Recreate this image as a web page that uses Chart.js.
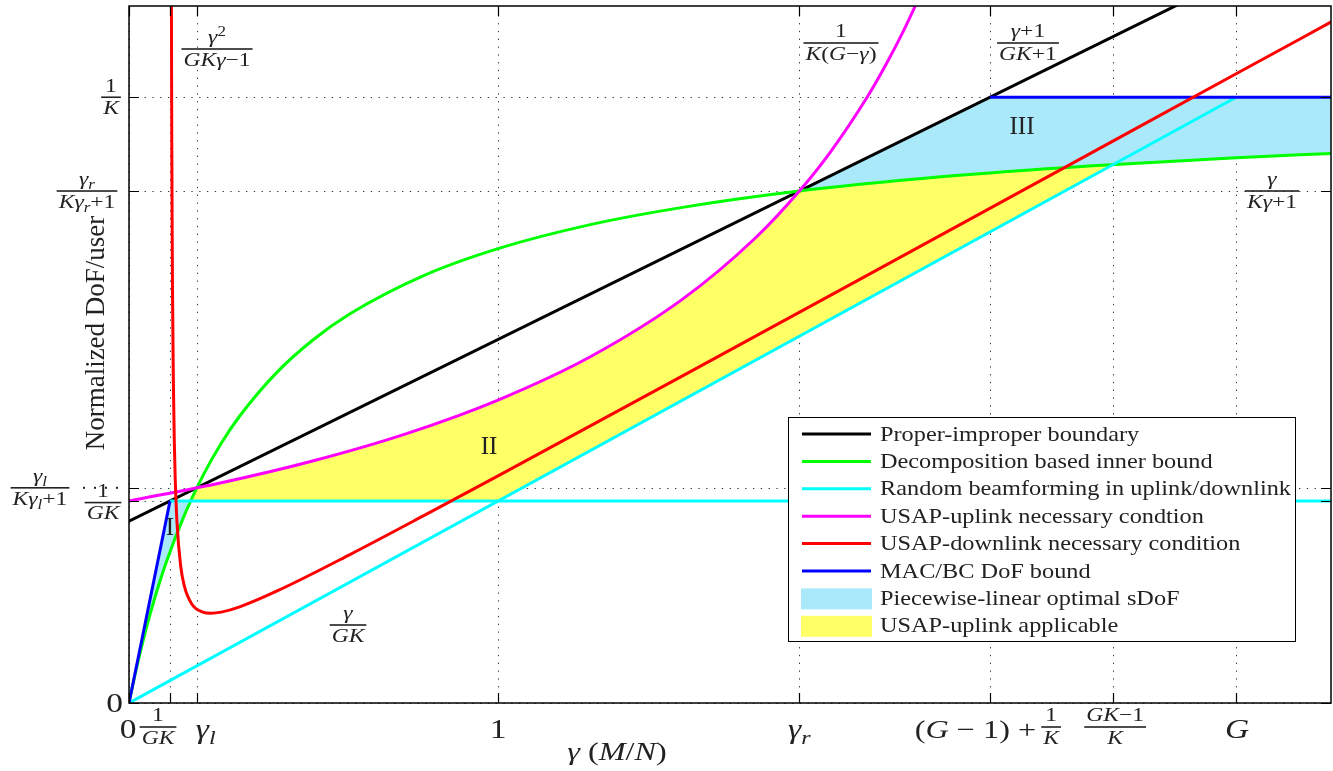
<!DOCTYPE html>
<html><head><meta charset="utf-8">
<script src="https://cdn.jsdelivr.net/npm/chart.js@4.4.0/dist/chart.umd.min.js"></script>
<style>html,body{margin:0;padding:0;background:#fff}#wrap{width:1333px;height:771px;position:relative}</style>
</head><body><div id="wrap"><canvas id="c" width="1333" height="771"></canvas></div>
<script>
// ---------- axis ranges and ticks ----------
const xRange = [0, 3.257];
const yRange = [0, 0.3835];
const xTicks = [0, 0.1111, 0.1835, 1, 1.8165, 2.3333, 2.6667, 3];
const yTicks = [0, 0.1111, 0.1184, 0.2817, 0.3333];

// ---------- series ----------
const properX = [0, 3.26];
const properY = [0.1, 0.426];

const decompX = [0, 0.01, 0.02, 0.03, 0.05, 0.07, 0.1, 0.15, 0.2, 0.25, 0.3, 0.4, 0.5, 0.6, 0.8, 1.0, 1.25, 1.5, 1.8, 2.2, 2.6, 3.0, 3.26];
const decompY = [0, 0.0097, 0.0189, 0.0275, 0.0435, 0.0579, 0.0769, 0.1034, 0.125, 0.1429, 0.1579, 0.1818, 0.2, 0.2143, 0.2353, 0.25, 0.2632, 0.2727, 0.2813, 0.2895, 0.2955, 0.3, 0.3024];

const randomUpX = [0, 3];
const randomUpY = [0, 0.3333];
const randomFlatX = [0.1111, 3.26];
const randomFlatY = [0.1111, 0.1111];

const uplinkX = [0, 0.25, 0.5, 0.75, 1.0, 1.25, 1.5, 1.7, 1.8165, 1.9, 2.0, 2.05, 2.1, 2.15];
const uplinkY = [0.1111, 0.1212, 0.1333, 0.1481, 0.1667, 0.1905, 0.2222, 0.2564, 0.2817, 0.3030, 0.3333, 0.3509, 0.3704, 0.3922];

const downlinkX = [0.1148, 0.1155, 0.116, 0.117, 0.118, 0.12, 0.1225, 0.125, 0.13, 0.14, 0.15, 0.17, 0.2, 0.2222, 0.25, 0.3, 0.4, 0.6, 0.8, 1.0, 1.5, 2.0, 2.5, 3.0, 3.26];
const downlinkY = [0.397, 0.3377, 0.3058, 0.2583, 0.2246, 0.18, 0.1464, 0.125, 0.0994, 0.0754, 0.0643, 0.0545, 0.05, 0.0494, 0.05, 0.0529, 0.0615, 0.0818, 0.1032, 0.125, 0.18, 0.2353, 0.2907, 0.3462, 0.375];

const macLowX = [0, 0.1111];
const macLowY = [0, 0.1111];
const macHighX = [2.3333, 3.26];
const macHighY = [0.3333, 0.3333];

// ---------- shaded regions ----------
const region1X = [0, 0.1111, 0.1667, 0.15, 0.1, 0.07, 0.05, 0.03, 0.02, 0.01, 0];
const region1Y = [0, 0.1111, 0.1111, 0.1034, 0.0769, 0.0579, 0.0435, 0.0275, 0.0189, 0.0097, 0];
const region2X = [0.1667, 0.1835, 0.25, 0.5, 0.75, 1.0, 1.25, 1.5, 1.6, 1.7, 1.75, 1.8165, 2.0, 2.2, 2.4, 2.6667, 1.0, 0.1667];
const region2Y = [0.1111, 0.1184, 0.1212, 0.1333, 0.1481, 0.1667, 0.1905, 0.2222, 0.2381, 0.2564, 0.2667, 0.2817, 0.2857, 0.2895, 0.2927, 0.2963, 0.1111, 0.1111];
const region3X = [1.8165, 2.3333, 3.26, 3.26, 3.0, 2.6, 2.2, 2.0, 1.8165];
const region3Y = [0.2817, 0.3333, 0.3333, 0.3024, 0.3, 0.2955, 0.2895, 0.2857, 0.2817];

// ---------- legend ----------
const legendLabels = ['Proper-improper boundary', 'Decomposition based inner bound', 'Random beamforming in uplink/downlink',
  'USAP-uplink necessary condtion', 'USAP-downlink necessary condition', 'MAC/BC DoF bound',
  'Piecewise-linear optimal sDoF', 'USAP-uplink applicable'];
const legendColors = ['#000000', '#00ff00', '#00ffff', '#ff00ff', '#ff0000', '#0000ff', '#aae9f9', '#ffff66'];
const legendKinds = ['line', 'line', 'line', 'line', 'line', 'line', 'patch', 'patch'];

const pts = (xs, ys) => xs.map((x, i) => ({x, y: ys[i]}));
const lineDs = (label, xs, ys, color, smooth) => ({
  label, data: pts(xs, ys), borderColor: color, borderWidth: 3, pointRadius: 0, fill: false,
  cubicInterpolationMode: smooth ? 'monotone' : 'default', tension: 0
});
const areaDs = (label, xs, ys, color) => ({
  label, data: pts(xs, ys), borderWidth: 0, borderColor: 'rgba(0,0,0,0)', backgroundColor: color,
  pointRadius: 0, fill: 'shape', tension: 0
});

const SERIF = '"Liberation Serif", "Times New Roman", serif';
const MSX = 1.24;   // horizontal stretch of math glyphs
function toks(s) {
  const out = [];
  for (let i = 0; i < s.length; i++) {
    let c = s[i], m = 0;
    if (c === '_' || c === '^') { m = c === '_' ? 1 : 2; c = s[++i]; }
    out.push({c, it: /[A-Za-z\u03b1-\u03c9]/.test(c), m});
  }
  return out;
}
function setF(ctx, t, size) {
  const fs = t.m ? size * 0.72 : size;
  ctx.font = (t.it ? 'italic ' : '') + fs.toFixed(1) + 'px ' + SERIF;
}
function mWidth(ctx, s, size) {
  let w = 0;
  for (const t of toks(s)) { setF(ctx, t, size); w += ctx.measureText(t.c).width * MSX; }
  return w;
}
function mDraw(ctx, s, x, y, size, align) {
  const w = mWidth(ctx, s, size);
  let cx = align === 'center' ? x - w / 2 : align === 'right' ? x - w : x;
  ctx.textBaseline = 'alphabetic'; ctx.textAlign = 'left';
  for (const t of toks(s)) {
    setF(ctx, t, size);
    const dy = t.m === 1 ? size * 0.22 : t.m === 2 ? -size * 0.38 : 0;
    ctx.save(); ctx.translate(cx, y + dy); ctx.scale(MSX, 1); ctx.fillText(t.c, 0, 0); ctx.restore();
    cx += ctx.measureText(t.c).width * MSX;
  }
  return w;
}
function frac(ctx, num, den, cx, by, size) {
  const w = Math.max(mWidth(ctx, num, size), mWidth(ctx, den, size)) + 4;
  ctx.fillRect(cx - w / 2, by - 0.8, w, 1.6);
  mDraw(ctx, num, cx, by - size * 0.3, size, 'center');
  mDraw(ctx, den, cx, by + size * 0.88, size, 'center');
}

const FS = 19;   // fraction part size
const BIG = 27;  // tick labels

const decor = {
  id: 'decor',
  beforeDatasetsDraw(chart) {
    const {ctx, chartArea: a, scales: {x, y}} = chart;
    ctx.save();
    ctx.strokeStyle = '#333'; ctx.lineWidth = 1; ctx.setLineDash([1.3, 6.5]);
    xTicks.forEach(v => { const px = Math.round(x.getPixelForValue(v)) + 0.5; ctx.beginPath(); ctx.moveTo(px, a.bottom); ctx.lineTo(px, a.top); ctx.stroke(); });
    yTicks.forEach(v => { const py = Math.round(y.getPixelForValue(v)) + 0.5; ctx.beginPath(); ctx.moveTo(a.left, py); ctx.lineTo(a.right, py); ctx.stroke(); });
    ctx.restore();
  },
  afterDatasetsDraw(chart) {
    const {ctx, chartArea: a, scales: {x, y}} = chart;
    ctx.save();
    // box and inward ticks
    ctx.strokeStyle = '#000'; ctx.lineWidth = 1.5; ctx.setLineDash([]);
    ctx.strokeRect(a.left, a.top, a.right - a.left, a.bottom - a.top);
    ctx.lineWidth = 1.2;
    xTicks.forEach(v => { const px = Math.round(x.getPixelForValue(v)) + 0.5;
      ctx.beginPath(); ctx.moveTo(px, a.bottom); ctx.lineTo(px, a.bottom - 10); ctx.moveTo(px, a.top); ctx.lineTo(px, a.top + 10); ctx.stroke(); });
    yTicks.forEach(v => { const py = Math.round(y.getPixelForValue(v)) + 0.5;
      ctx.beginPath(); ctx.moveTo(a.left, py); ctx.lineTo(a.left + 10, py); ctx.moveTo(a.right, py); ctx.lineTo(a.right - 10, py); ctx.stroke(); });
    ctx.fillStyle = '#222';
    // y tick labels
    const yp = v => y.getPixelForValue(v);
    const xp = v => x.getPixelForValue(v);
    mDraw(ctx, '0', a.left - 6, yp(0) + 9, BIG, 'right');
    frac(ctx, '1', 'K', a.left - 18, yp(yTicks[4]), FS);
    frac(ctx, 'γ_r', 'Kγ_r+1', a.left - 42, yp(yTicks[3]), FS);
    frac(ctx, 'γ_l', 'Kγ_l+1', 40, yp(yTicks[2]), FS);
    frac(ctx, '1', 'GK', a.left - 26, yp(yTicks[1]) + 1.5, FS);
    ctx.fillStyle = '#222';
    for (let k = 0; k < 4; k++) ctx.fillRect(83 + k * 11, yp(yTicks[2]) - 1, 2, 2);
    // x tick labels
    const bl = a.bottom + 35;
    mDraw(ctx, '0', xp(0) - 1, bl, BIG, 'center');
    frac(ctx, '1', 'GK', xp(xTicks[1]) - 12, a.bottom + 24, FS);
    mDraw(ctx, 'γ_l', xp(xTicks[2]) + 9, bl, BIG, 'center');
    mDraw(ctx, '1', xp(1), bl, BIG, 'center');
    mDraw(ctx, 'γ_r', xp(xTicks[4]), bl, BIG, 'center');
    mDraw(ctx, '(G − 1) +', xp(xTicks[5]) + 46, bl, 26, 'right');
    frac(ctx, '1', 'K', xp(xTicks[5]) + 61, a.bottom + 24, FS);
    frac(ctx, 'GK−1', 'K', xp(xTicks[6]) + 2, a.bottom + 24, FS);
    mDraw(ctx, 'G', xp(xTicks[7]) + 1, bl, BIG, 'center');
    // axis titles
    mDraw(ctx, 'γ (M/N)', 617, 760, 26, 'center');
    ctx.save(); ctx.translate(104, 333); ctx.rotate(-Math.PI / 2);
    ctx.font = '27px ' + SERIF; ctx.textAlign = 'center'; ctx.textBaseline = 'alphabetic';
    ctx.fillText('Normalized DoF/user', 0, 0); ctx.restore();
    // curve annotations
    frac(ctx, 'γ^2', 'GKγ−1', 217, 49, FS);
    frac(ctx, '1', 'K(G−γ)', 841, 43, FS);
    frac(ctx, 'γ+1', 'GK+1', 1028, 43, FS);
    frac(ctx, 'γ', 'Kγ+1', 1272, 191, FS);
    frac(ctx, 'γ', 'GK', 348, 625, FS);
    ctx.font = '25px ' + SERIF; ctx.textAlign = 'center'; ctx.textBaseline = 'middle';
    ctx.fillText('I', 170, 528);
    ctx.fillText('II', 489, 447);
    ctx.fillText('III', 1022, 127);
    // legend
    const L = 788.5, T = 417.5, W = 507, H = 224;
    ctx.fillStyle = '#fff'; ctx.fillRect(L, T, W, H);
    ctx.strokeStyle = '#000'; ctx.lineWidth = 1; ctx.strokeRect(L, T, W, H);
    legendLabels.forEach((lab, i) => {
      const cy = 434 + i * 27.4;
      if (legendKinds[i] === 'line') {
        ctx.strokeStyle = legendColors[i]; ctx.lineWidth = 3;
        ctx.beginPath(); ctx.moveTo(802, cy); ctx.lineTo(871, cy); ctx.stroke();
      } else {
        ctx.fillStyle = legendColors[i]; ctx.fillRect(801, cy - 10, 71, 21);
      }
      ctx.fillStyle = '#222'; ctx.font = '21.5px ' + SERIF; ctx.textAlign = 'left'; ctx.textBaseline = 'middle';
      ctx.save(); ctx.translate(880, cy + 1); ctx.scale(1.13, 1); ctx.fillText(lab, 0, 0); ctx.restore();
    });
    ctx.restore();
  }
};

new Chart(document.getElementById('c'), {
  type: 'line',
  data: {
    datasets: [
      lineDs(legendLabels[4], downlinkX, downlinkY, legendColors[4], true),
      lineDs(legendLabels[3], uplinkX, uplinkY, legendColors[3], true),
      lineDs(legendLabels[5], macLowX, macLowY, legendColors[5], false),
      lineDs(legendLabels[5], macHighX, macHighY, legendColors[5], false),
      lineDs(legendLabels[2], randomUpX, randomUpY, legendColors[2], false),
      lineDs(legendLabels[2], randomFlatX, randomFlatY, legendColors[2], false),
      lineDs(legendLabels[1], decompX, decompY, legendColors[1], true),
      lineDs(legendLabels[0], properX, properY, legendColors[0], false),
      areaDs(legendLabels[6], region1X, region1Y, legendColors[6]),
      areaDs(legendLabels[6], region3X, region3Y, legendColors[6]),
      areaDs(legendLabels[7], region2X, region2Y, legendColors[7])
    ]
  },
  options: {
    responsive: false, devicePixelRatio: 1, animation: false, events: [],
    layout: {padding: {left: 129, top: 6, right: 2, bottom: 68}},
    plugins: {legend: {display: false}, tooltip: {enabled: false}},
    scales: {
      x: {type: 'linear', min: xRange[0], max: xRange[1], display: false},
      y: {type: 'linear', min: yRange[0], max: yRange[1], display: false}
    }
  },
  plugins: [decor]
});
</script>
</body></html>
